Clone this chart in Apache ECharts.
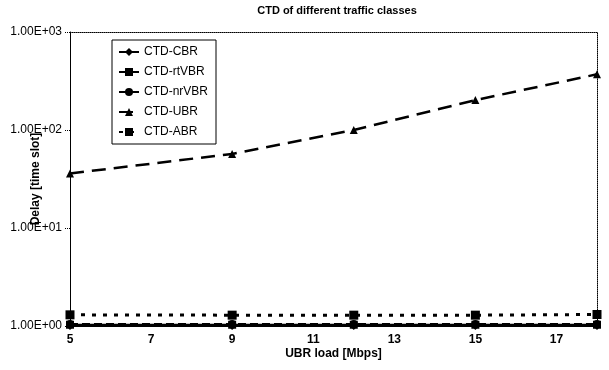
<!DOCTYPE html>
<html><head><meta charset="utf-8">
<script src="https://cdn.jsdelivr.net/npm/echarts@6/dist/echarts.min.js"></script>
<style>html,body{margin:0;padding:0;background:#fff}#c{width:609px;height:370px}</style>
</head><body><div id="c"></div>
<script>
var xLoad = [5, 9, 12, 15, 18];
var cbr = [1.0, 1.0, 1.0, 1.0, 1.0];
var rtvbr = [1.03, 1.03, 1.03, 1.03, 1.03];
var nrvbr = [1.05, 1.05, 1.05, 1.05, 1.05];
var ubr = [36, 57, 100, 202, 370];
var abr = [1.3, 1.29, 1.29, 1.29, 1.31];
var seriesNames = ['CTD-CBR', 'CTD-rtVBR', 'CTD-nrVBR', 'CTD-UBR', 'CTD-ABR'];
var xTickLabels = [5, 7, 9, 11, 13, 15, 17];

function pairs(ys) { return xLoad.map(function (x, i) { return [x, ys[i]]; }); }
function fmtE(v) {
  var e = Math.round(Math.log10(v));
  var m = v / Math.pow(10, e);
  return m.toFixed(2) + 'E+' + (e < 10 ? '0' : '') + e;
}
var font = 'Liberation Sans, Arial, sans-serif';
var chart = echarts.init(document.getElementById('c'));
var base = { type: 'line', xAxisIndex: 0, yAxisIndex: 0, symbolSize: 8, itemStyle: { color: '#000' }, z: 3 };
chart.setOption({
  animation: false,
  title: { text: 'CTD of different traffic classes', left: 332, textAlign: 'center', top: 0,
    textStyle: { fontFamily: font, fontSize: 11, fontWeight: 'bold', color: '#000' } },
  grid: { left: 70, right: 12, top: 32, bottom: 44, containLabel: false, outerBoundsMode: 'none' },
  legend: {
    orient: 'vertical', left: 112, top: 40, padding: [6, 8, 6, 6], itemGap: 8,
    borderColor: '#000', borderWidth: 1, itemWidth: 20, itemHeight: 10,
    textStyle: { fontFamily: font, fontSize: 12, color: '#000' },
    data: seriesNames
  },
  xAxis: [{
    type: 'value', min: 5, max: 18, interval: 1,
    name: 'UBR load [Mbps]', nameLocation: 'middle', nameGap: 22, nameMoveOverlap: false,
    nameTextStyle: { fontFamily: font, fontSize: 12, fontWeight: 'bold', color: '#000' },
    axisLine: { lineStyle: { color: '#000', width: 1 } },
    axisTick: { show: false },
    splitLine: { show: false },
    axisLabel: { fontFamily: font, fontSize: 12, fontWeight: 'bold', color: '#000', margin: 8,
      formatter: function (v) { return xTickLabels.indexOf(v) >= 0 ? String(v) : ''; } }
  }, {
    type: 'value', min: 5, max: 18, position: 'top',
    axisLine: { show: true, lineStyle: { color: '#000', type: 'dotted', width: 1 } },
    axisTick: { show: false }, axisLabel: { show: false }, splitLine: { show: false }
  }],
  yAxis: [{
    type: 'log', logBase: 10, min: 1, max: 1000,
    name: 'Delay [time slot]', nameLocation: 'middle', nameGap: 28, nameRotate: 90, nameMoveOverlap: false,
    nameTextStyle: { fontFamily: font, fontSize: 12, fontWeight: 'bold', color: '#000' },
    axisLine: { show: true, lineStyle: { color: '#000', width: 1 } },
    axisTick: { show: true, length: 5, lineStyle: { color: '#000', type: 'dotted' } },
    minorTick: { show: false },
    splitLine: { show: false },
    axisLabel: { fontFamily: font, fontSize: 12, color: '#000', margin: 8, formatter: fmtE }
  }, {
    type: 'log', logBase: 10, min: 1, max: 1000, position: 'right',
    axisLine: { show: true, lineStyle: { color: '#000', type: 'dotted', width: 1 } },
    axisTick: { show: false }, axisLabel: { show: false }, splitLine: { show: false }
  }],
  series: [
    Object.assign({}, base, { name: seriesNames[0], data: pairs(cbr), symbol: 'diamond',
      lineStyle: { color: '#000', width: 2 } }),
    Object.assign({}, base, { name: seriesNames[1], data: pairs(rtvbr), symbol: 'rect',
      lineStyle: { color: '#000', width: 2 } }),
    Object.assign({}, base, { name: seriesNames[2], data: pairs(nrvbr), symbol: 'circle',
      lineStyle: { color: '#000', width: 2, type: [8, 4] } }),
    Object.assign({}, base, { name: seriesNames[3], data: pairs(ubr), symbol: 'triangle',
      lineStyle: { color: '#000', width: 2.5, type: [14, 8] } }),
    Object.assign({}, base, { name: seriesNames[4], data: pairs(abr), symbol: 'rect', symbolSize: 9,
      lineStyle: { color: '#000', width: 3, type: [4, 7] } })
  ]
});
</script></body></html>
